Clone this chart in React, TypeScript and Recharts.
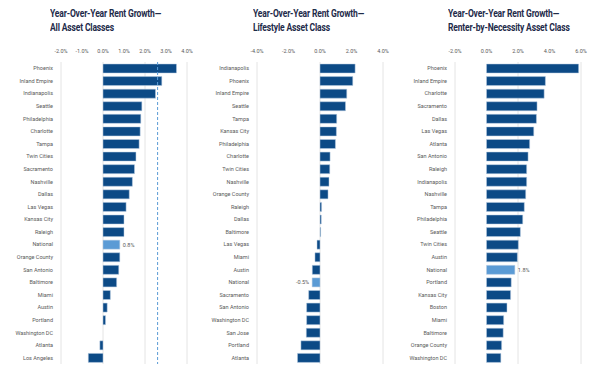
import React from 'react'
import { BarChart, Bar, XAxis, YAxis, CartesianGrid, ReferenceLine, Cell, LabelList } from 'recharts'

// All asset classes
const allCities = ['Phoenix', 'Inland Empire', 'Indianapolis', 'Seattle', 'Philadelphia', 'Charlotte', 'Tampa', 'Twin Cities', 'Sacramento', 'Nashville', 'Dallas', 'Las Vegas', 'Kansas City', 'Raleigh', 'National', 'Orange County', 'San Antonio', 'Baltimore', 'Miami', 'Austin', 'Portland', 'Washington DC', 'Atlanta', 'Los Angeles']
const allValues = [3.5, 2.8, 2.5, 1.85, 1.8, 1.77, 1.72, 1.57, 1.5, 1.4, 1.25, 1.1, 1.0, 1.0, 0.8, 0.8, 0.75, 0.65, 0.35, 0.2, 0.12, 0, -0.15, -0.7]
const allTicks = [-2, -1, 0, 1, 2, 3, 4]
const allReference = 2.6

// Lifestyle
const lifeCities = ['Indianapolis', 'Phoenix', 'Inland Empire', 'Seattle', 'Tampa', 'Kansas City', 'Philadelphia', 'Charlotte', 'Twin Cities', 'Nashville', 'Orange County', 'Raleigh', 'Dallas', 'Baltimore', 'Las Vegas', 'Miami', 'Austin', 'National', 'Sacramento', 'San Antonio', 'Washington DC', 'San Jose', 'Portland', 'Atlanta']
const lifeValues = [2.23, 2.08, 1.7, 1.62, 1.06, 1.04, 0.98, 0.64, 0.62, 0.57, 0.51, 0.1, 0.08, 0.04, -0.19, -0.32, -0.49, -0.5, -0.72, -0.85, -0.85, -0.87, -1.21, -1.43]
const lifeTicks = [-4, -2, 0, 2, 4]

// Renter-by-Necessity
const rbnCities = ['Phoenix', 'Inland Empire', 'Charlotte', 'Sacramento', 'Dallas', 'Las Vegas', 'Atlanta', 'San Antonio', 'Raleigh', 'Indianapolis', 'Nashville', 'Tampa', 'Philadelphia', 'Seattle', 'Twin Cities', 'Austin', 'National', 'Portland', 'Kansas City', 'Boston', 'Miami', 'Baltimore', 'Orange County', 'Washington DC']
const rbnValues = [5.85, 3.74, 3.66, 3.21, 3.17, 3.0, 2.74, 2.64, 2.55, 2.55, 2.49, 2.4, 2.3, 2.15, 2.02, 1.96, 1.8, 1.57, 1.53, 1.3, 1.09, 1.06, 0.96, 0.91]
const rbnTicks = [-2, 0, 2, 4, 6]

const NAVY = '#0c4a86'
const LIGHT = '#5b9bd5'
const TITLE = '#1e2b4a'
const LABEL = '#5a5a5a'

const pct = (v: number) => `${v.toFixed(1)}%`

const CityTick = (props: any) => {
  const { x, y, payload } = props
  return (
    <text x={x} y={y} dy={2} fontSize={5.5} fill={LABEL} textAnchor="end" fontFamily="Roboto">
      {payload.value}
    </text>
  )
}

const NationalLabel = (props: any) => {
  const { x, y, width, height, value, index, names } = props
  if (names[index] !== 'National') return null
  const neg = value < 0
  const tx = neg ? x + width - 3 : x + width + 3
  return (
    <text x={tx} y={y + height / 2} dy={2} fontSize={5.5} fill={LABEL} textAnchor={neg ? 'end' : 'start'} fontFamily="Roboto">
      {pct(value)}
    </text>
  )
}

interface PanelProps {
  left: number
  titleLeft: number
  title: string
  subtitle: string
  cities: string[]
  values: number[]
  ticks: number[]
  reference?: number
}

const Panel: React.FC<PanelProps> = ({ left, titleLeft, title, subtitle, cities, values, ticks, reference }) => {
  const data = cities.map((name, i) => ({ name, value: values[i] }))
  return (
    <div style={{ position: 'absolute', left, top: 0, width: 200, height: 367 }}>
      <div style={{ position: 'absolute', left: titleLeft, top: 7, fontFamily: 'Roboto, sans-serif', fontWeight: 700, fontSize: 11.5, lineHeight: '13.5px', color: TITLE, whiteSpace: 'nowrap', transform: 'scaleX(0.74)', transformOrigin: 'left top', letterSpacing: '-0.2px' }}>
        <div>{title}</div>
        <div>{subtitle}</div>
      </div>
      <BarChart width={200} height={367} data={data} layout="vertical" margin={{ top: 42, right: 13, left: 0, bottom: 3 }} barSize={9}>
        <CartesianGrid horizontal={false} stroke="#e4e4e4" />
        <XAxis
          type="number"
          orientation="top"
          domain={[ticks[0], ticks[ticks.length - 1]]}
          ticks={ticks}
          tickFormatter={pct}
          axisLine={false}
          tickLine={false}
          height={20}
          tickMargin={3}
          tick={{ fontSize: 5.5, fill: LABEL, fontFamily: 'Roboto' }}
        />
        <YAxis
          type="category"
          dataKey="name"
          width={61}
          axisLine={false}
          tickLine={false}
          interval={0}
          tick={<CityTick />}
        />
        <Bar dataKey="value" isAnimationActive={false} stroke="#b8cde3" strokeWidth={0.5}>
          {data.map((d) => (
            <Cell key={d.name} fill={d.name === 'National' ? LIGHT : NAVY} />
          ))}
          <LabelList dataKey="value" content={(p: any) => <NationalLabel {...p} names={cities} />} />
        </Bar>
        {reference !== undefined && (
          <ReferenceLine x={reference} stroke={LIGHT} strokeDasharray="3 2" strokeWidth={1} />
        )}
      </BarChart>
    </div>
  )
}

export default function App() {
  return (
    <div style={{ position: 'absolute', left: 0, top: 0, width: 607, height: 367, background: '#fff', overflow: 'hidden' }}>
      <Panel left={0} titleLeft={50} title="Year-Over-Year Rent Growth—" subtitle="All Asset Classes" cities={allCities} values={allValues} ticks={allTicks} reference={allReference} />
      <Panel left={196} titleLeft={57} title="Year-Over-Year Rent Growth—" subtitle="Lifestyle Asset Class" cities={lifeCities} values={lifeValues} ticks={lifeTicks} />
      <Panel left={394} titleLeft={54} title="Year-Over-Year Rent Growth—" subtitle="Renter-by-Necessity Asset Class" cities={rbnCities} values={rbnValues} ticks={rbnTicks} />
    </div>
  )
}
